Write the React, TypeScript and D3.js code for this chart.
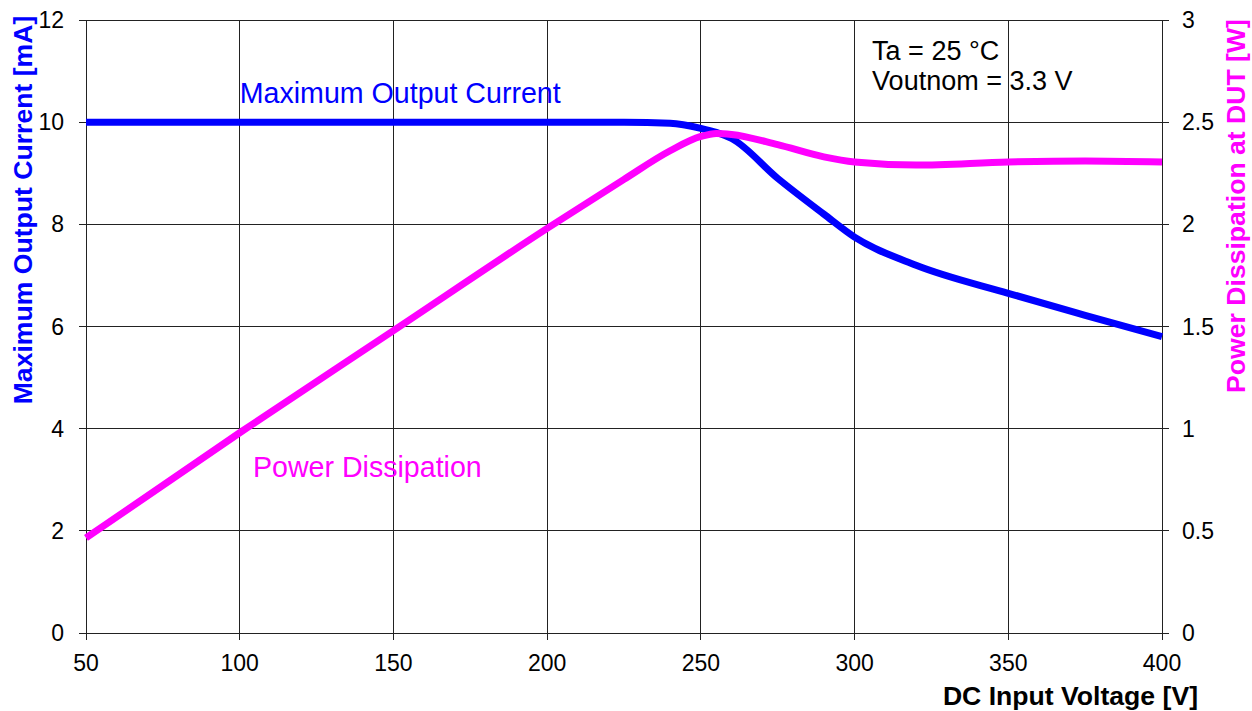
import React, { useEffect, useRef } from "react";
import * as d3 from "d3";

// DC input voltage [V]
const voltage = [50, 100, 150, 200, 225, 240, 250, 255, 260, 275, 290, 300, 320, 350, 375, 400];
// maximum output current [mA]
const current = [10, 10, 10, 10, 10.0, 9.98, 9.88, 9.8, 9.68, 8.9, 8.2, 7.75, 7.2, 6.65, 6.22, 5.8];
// power dissipation at DUT [W]
const power = [0.465, 0.98, 1.48, 1.98, 2.22, 2.36, 2.43, 2.445, 2.44, 2.39, 2.33, 2.305, 2.29, 2.305, 2.31, 2.305];

const xTicks = [50, 100, 150, 200, 250, 300, 350, 400];
const leftTicks = [0, 2, 4, 6, 8, 10, 12];
const rightTicks = [0, 0.5, 1, 1.5, 2, 2.5, 3];

const W = 1252;
const H = 711;

const App = () => {
  const svgRef = useRef<SVGSVGElement>(null);

  useEffect(() => {
    const margin = { top: 20, right: 90, bottom: 78, left: 86 };
    const width = W - margin.left - margin.right;
    const height = H - margin.top - margin.bottom;
    const font = "'Liberation Sans', Arial, sans-serif";

    const root = d3.select(svgRef.current);
    root.selectAll("*").remove();

    const svg = root
      .append("g")
      .attr("transform", `translate(${margin.left},${margin.top})`);

    const x = d3.scaleLinear().domain([50, 400]).range([0, width]);
    const yL = d3.scaleLinear().domain([0, 12]).range([height, 0]);
    const yR = d3.scaleLinear().domain([0, 3]).range([height, 0]);

    // grid
    const grid = svg.append("g").attr("stroke", "#222").attr("stroke-width", 1).attr("shape-rendering", "crispEdges");
    xTicks.forEach((t) => {
      grid.append("line").attr("x1", x(t)).attr("x2", x(t)).attr("y1", 0).attr("y2", height + 7);
    });
    leftTicks.forEach((t) => {
      grid.append("line").attr("x1", -7).attr("x2", width + 7).attr("y1", yL(t)).attr("y2", yL(t));
    });

    // tick labels
    const tl = svg.append("g").attr("font-family", font).attr("font-size", 23).attr("fill", "#000");
    xTicks.forEach((t) => {
      tl.append("text").attr("x", x(t)).attr("y", height + 38).attr("text-anchor", "middle").text(t);
    });
    leftTicks.forEach((t) => {
      tl.append("text").attr("x", -22).attr("y", yL(t) + 8).attr("text-anchor", "end").text(t);
    });
    rightTicks.forEach((t) => {
      tl.append("text").attr("x", width + 20).attr("y", yR(t) + 8).attr("text-anchor", "start").text(t);
    });

    // curves
    const lineL = d3
      .line<number>()
      .x((d, i) => x(voltage[i]))
      .y((d) => yL(d))
      .curve(d3.curveMonotoneX);
    const lineR = d3
      .line<number>()
      .x((d, i) => x(voltage[i]))
      .y((d) => yR(d))
      .curve(d3.curveMonotoneX);

    svg.append("path").attr("d", lineL(current)).attr("fill", "none").attr("stroke", "#0000ff").attr("stroke-width", 7);
    svg.append("path").attr("d", lineR(power)).attr("fill", "none").attr("stroke", "#ff00ff").attr("stroke-width", 7);

    // annotations
    const ann = svg.append("g").attr("font-family", font).attr("font-size", 28.6);
    ann.append("text").attr("x", x(100)).attr("y", yL(10.37)).attr("fill", "#0000ff").text("Maximum Output Current");
    ann.append("text").attr("x", x(104.3)).attr("y", yL(3.05)).attr("fill", "#ff00ff").text("Power Dissipation");
    ann.append("text").attr("x", x(305.7)).attr("y", yL(11.22)).attr("fill", "#000").attr("font-size", 27).text("Ta = 25 °C");
    ann.append("text").attr("x", x(305.7)).attr("y", yL(10.62)).attr("fill", "#000").attr("font-size", 27).text("Voutnom = 3.3 V");

    // axis titles
    const at = root.append("g").attr("font-family", font).attr("font-size", 26.6).attr("font-weight", "bold");
    at.append("text")
      .attr("transform", `translate(32,210) rotate(-90)`)
      .attr("text-anchor", "middle")
      .attr("fill", "#0000ff")
      .text("Maximum Output Current [mA]");
    at.append("text")
      .attr("transform", `translate(1245,206) rotate(-90)`)
      .attr("text-anchor", "middle")
      .attr("fill", "#ff00ff")
      .text("Power Dissipation at DUT [W]");
    at.append("text")
      .attr("x", 1198)
      .attr("y", 705)
      .attr("text-anchor", "end")
      .attr("fill", "#000")
      .text("DC Input Voltage [V]");
  }, []);

  return <svg ref={svgRef} width={W} height={H} style={{ position: "absolute", left: 0, top: 0, background: "#fff" }}></svg>;
};

export default App;
